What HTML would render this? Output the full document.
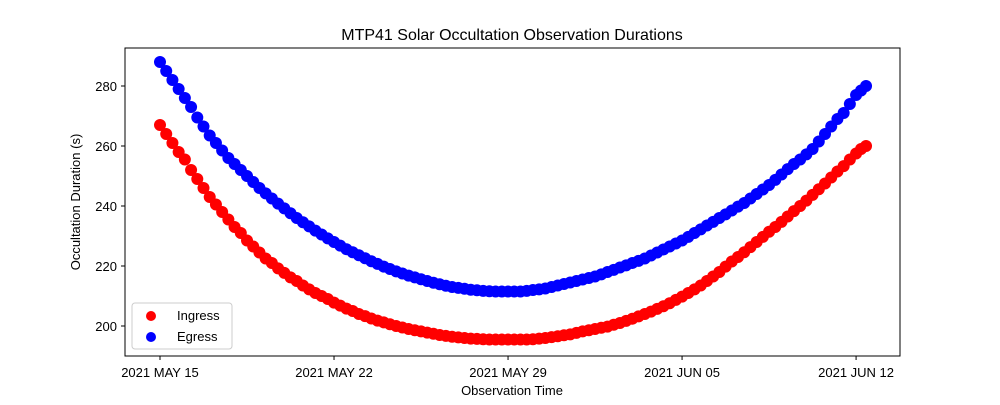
<!DOCTYPE html>
<html><head><meta charset="utf-8"><style>
body{margin:0;background:#fff;}
svg text{font-family:"Liberation Sans","DejaVu Sans",sans-serif;}
</style></head><body>
<svg id="chart" width="1000" height="400" xmlns="http://www.w3.org/2000/svg"></svg>
<script>
const days = [0,0.25,0.5,0.75,1,1.25,1.5,1.75,2,2.25,2.5,2.75,3,3.25,3.5,3.75,4,4.25,4.5,4.75,5,5.25,5.5,5.75,6,6.25,6.5,6.75,7,7.25,7.5,7.75,8,8.25,8.5,8.75,9,9.25,9.5,9.75,10,10.25,10.5,10.75,11,11.25,11.5,11.75,12,12.25,12.5,12.75,13,13.25,13.5,13.75,14,14.25,14.5,14.75,15,15.25,15.5,15.75,16,16.25,16.5,16.75,17,17.25,17.5,17.75,18,18.25,18.5,18.75,19,19.25,19.5,19.75,20,20.25,20.5,20.75,21,21.25,21.5,21.75,22,22.25,22.5,22.75,23,23.25,23.5,23.75,24,24.25,24.5,24.75,25,25.25,25.5,25.75,26,26.25,26.5,26.75,27,27.25,27.5,27.75,28,28.2,28.4];
const ingress = [267,264,261,258,255.5,252,249,246,243,240.5,238,235.5,233,231,
228.5,226.5,224.5,222.5,221,219.2,217.7,216.2,215,213.5,212.2,211,210,209,
207.8,206.8,205.8,205,204,203.3,202.5,201.8,201.2,200.6,200,199.5,199,198.6,
198.2,197.8,197.4,197,196.7,196.4,196.2,196,195.8,195.7,195.6,195.5,195.5,195.5,
195.5,195.5,195.5,195.5,195.6,195.8,196,196.3,196.6,196.9,197.2,197.7,198.2,198.6,
199,199.4,199.8,200.4,201,201.7,202.4,203.2,204,204.8,205.7,206.6,207.6,208.7,
209.8,211,212.2,213.5,215,216.5,218,219.8,221.5,223,224.6,226.3,228,229.7,
231.4,233,234.7,236.5,238.3,240,241.8,243.7,245.6,247.5,249.5,251.5,253.3,255.5,
257.5,259,260];
const egress = [288,285,282,279,276,273,269.5,266.5,263.5,261,258.5,256,254,252,
250,248,246,244.2,242.5,240.8,239.2,237.6,236,234.6,233.2,231.8,230.5,229.2,
228,226.8,225.6,224.6,223.6,222.6,221.6,220.7,219.8,219,218.2,217.5,216.8,216.2,
215.6,215,214.4,213.9,213.4,213,212.7,212.4,212.1,211.9,211.7,211.6,211.5,211.5,
211.5,211.5,211.5,211.7,212,212.2,212.5,213,213.5,214,214.5,215,215.5,216,
216.5,217.2,218,218.7,219.5,220.2,221,221.7,222.5,223.5,224.5,225.5,226.5,227.5,
228.5,229.7,231,232.2,233.5,234.7,236,237.2,238.5,239.8,241,242.5,244,245.5,
247,248.7,250.5,252.3,254,255.5,257.2,259,261.5,264,266.5,269,271,274,
277,278.5,280];
const xTickDays = [0,7,14,21,28];
const xTickLabels = ["2021 MAY 15","2021 MAY 22","2021 MAY 29","2021 JUN 05","2021 JUN 12"];
const yTicks = [200,220,240,260,280];

const NS="http://www.w3.org/2000/svg";
const svg=document.getElementById('chart');
const L=125,R=900,T=48,B=356;
const xs=d=>160+d*24.86;
const ys=v=>326-(v-200)*3;
function mk(tag,attrs,parent){const e=document.createElementNS(NS,tag);for(const k in attrs)e.setAttribute(k,attrs[k]);(parent||svg).appendChild(e);return e;}

const t=mk('text',{x:512,y:40,'text-anchor':'middle','font-size':16,fill:'#000'});


t.textContent='MTP41 Solar Occultation Observation Durations';

const gI=mk('g',{fill:'#ff0000'});


days.forEach((d,i)=>{const c=mk('circle',{cx:xs(d),cy:ys(ingress[i]),r:6},gI);

});
const gE=mk('g',{fill:'#0000ff'});


days.forEach((d,i)=>{const c=mk('circle',{cx:xs(d),cy:ys(egress[i]),r:6},gE);

});

const fr=mk('rect',{x:L,y:T,width:R-L,height:B-T,fill:'none',stroke:'#000','stroke-width':1});



xTickDays.forEach((d,i)=>{const x=xs(d);
mk('line',{x1:x,x2:x,y1:B,y2:B+4,stroke:'#000'});
const tx=mk('text',{x:x,y:B+21,'text-anchor':'middle','font-size':13,fill:'#000'});


tx.textContent=xTickLabels[i];});
yTicks.forEach(v=>{const y=ys(v);
mk('line',{x1:L-4,x2:L,y1:y,y2:y,stroke:'#000'});
const ty=mk('text',{x:L-8,y:y+5,'text-anchor':'end','font-size':13,fill:'#000'});


ty.textContent=v;});

const xt=mk('text',{x:512,y:395,'text-anchor':'middle','font-size':13,fill:'#000'});


xt.textContent='Observation Time';
const yt=mk('text',{x:80,y:202,'text-anchor':'middle','font-size':13,fill:'#000',transform:'rotate(-90 80 202)'});


yt.textContent='Occultation Duration (s)';

const lg=mk('g',{});


mk('rect',{x:132,y:303,width:100,height:46,rx:3,fill:'#fff',stroke:'#ccc'},lg);
mk('circle',{cx:151,cy:316,r:5,fill:'#ff0000'},lg);
mk('circle',{cx:151,cy:337,r:5,fill:'#0000ff'},lg);
const l1=mk('text',{x:177,y:320,'font-size':13,fill:'#000'},lg);


l1.textContent='Ingress';
const l2=mk('text',{x:177,y:341,'font-size':13,fill:'#000'},lg);


l2.textContent='Egress';
</script>
</body></html>
